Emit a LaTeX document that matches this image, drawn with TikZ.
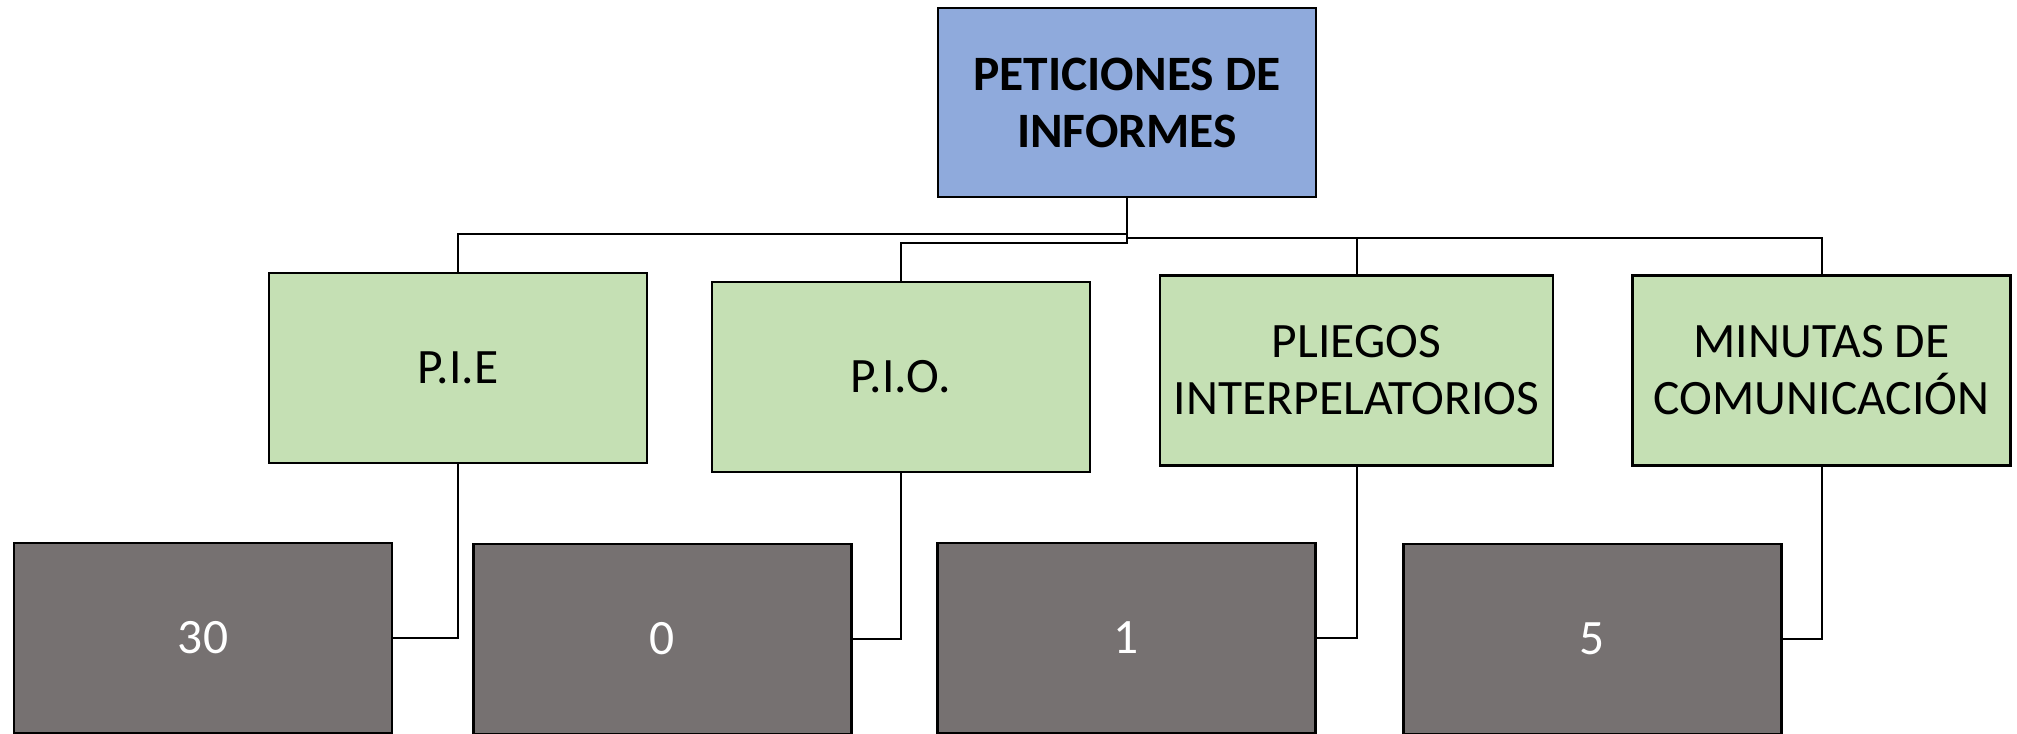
\documentclass[tikz,border=0pt]{standalone}
\usepackage{fontspec}
\setmainfont{Carlito}
\definecolor{topblue}{HTML}{8FAADC}
\definecolor{catgreen}{HTML}{C5E0B4}
\definecolor{valgray}{HTML}{767171}
\begin{document}
\begin{tikzpicture}[x=1pt,y=-1pt,
  box/.style={draw=black, line width=2.5pt, inner sep=0pt, align=center,
    font=\fontsize{49.5}{57}\selectfont},
  topbox/.style={box, fill=topblue, font=\fontsize{49.5}{57}\selectfont\bfseries,
    minimum width=378pt, minimum height=189pt},
  catbox/.style={box, fill=catgreen, minimum width=378pt, minimum height=190pt},
  valbox/.style={box, fill=valgray, text=white, minimum width=378pt, minimum height=190pt},
  link/.style={draw=black, line width=2pt}]
\useasboundingbox (0,0) rectangle (2017,733);
\clip (0,0) rectangle (2017,733);
\node[topbox] (top) at (1127,102.5) {PETICIONES DE\\INFORMES};
\node[catbox] (pie) at (458,368) {P.I.E};
\node[catbox] (pio) at (901,377) {P.I.O.};
\node[catbox, minimum width=393pt] (pli) at (1356.5,370.5) {PLIEGOS\\INTERPELATORIOS};
\node[catbox] (min) at (1821.5,370.5) {MINUTAS DE\\COMUNICACIÓN};
\node[valbox] (v30) at (203,638) {30};
\node[valbox] (v0) at (662.5,639) {0};
\node[valbox] (v1) at (1126.5,638) {1};
\node[valbox] (v5) at (1592.5,639) {5};
\draw[link] (top.south) -- ++(0,36) -| (pie.north);
\draw[link] (top.south) -- ++(0,45) -| (pio.north);
\draw[link] (top.south) -- ++(0,40) -| (pli.north);
\draw[link] (top.south) -- ++(0,40) -| (min.north);
\draw[link] (pie.south) |- (v30.east);
\draw[link] (pio.south) |- (v0.east);
\draw[link] (pli.south) |- (v1.east);
\draw[link] (min.south) |- (v5.east);
\end{tikzpicture}
\end{document}
